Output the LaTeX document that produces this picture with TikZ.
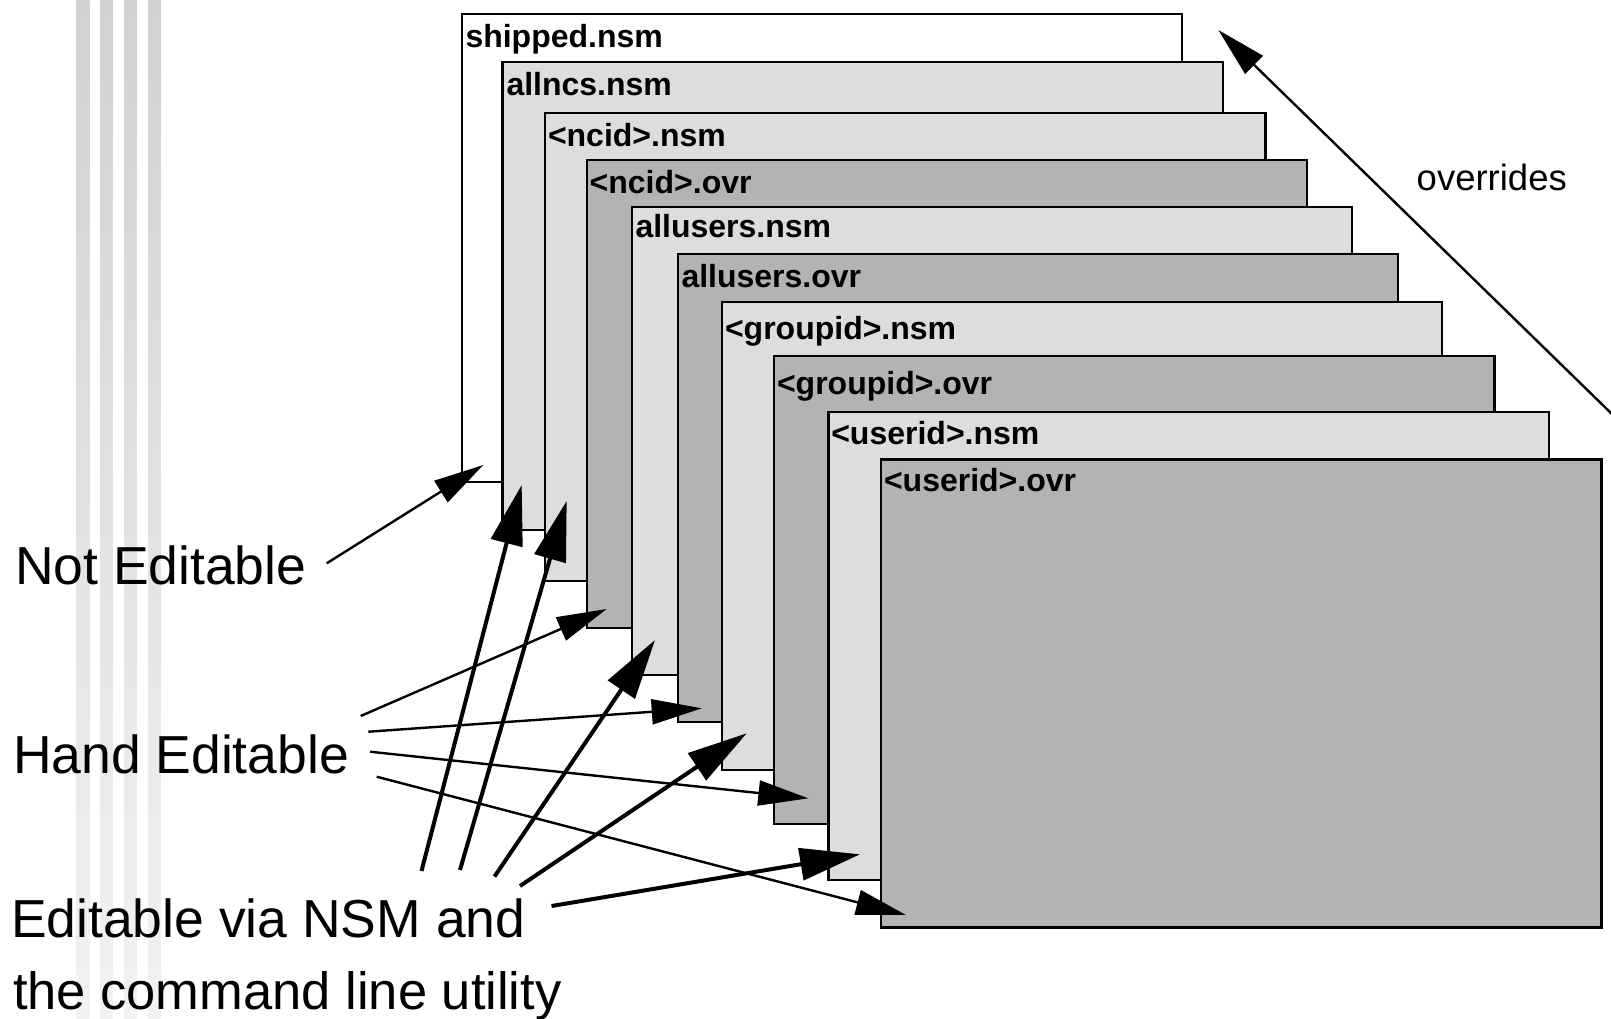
\documentclass[tikz,border=0pt]{standalone}
\usepackage{fontspec}
\setmainfont{Liberation Sans}
\usetikzlibrary{arrows.meta}
\definecolor{lightbox}{RGB}{221,221,221}
\definecolor{darkbox}{RGB}{179,179,179}
\begin{document}
\begin{tikzpicture}[x=1pt,y=-1pt,
  filebox/.style={draw=black, line width=2.4pt, rectangle, anchor=north west,
    minimum width=720.5pt, minimum height=468pt, inner sep=0pt, outer sep=0pt},
  whitebox/.style={filebox, fill=white},
  nsmbox/.style={filebox, fill=lightbox},
  ovrbox/.style={filebox, fill=darkbox},
  boxlabel/.style={anchor=base west, inner sep=0pt, outer sep=0pt,
    font=\bfseries\fontsize{32}{36}\selectfont},
  biglabel/.style={anchor=base west, inner sep=0pt, outer sep=0pt,
    font=\fontsize{53.5}{64}\selectfont},
  thinarrow/.style={line width=2.4pt, -{Triangle[length=50pt,width=25pt]}},
  thickarrow/.style={line width=4pt, -{Triangle[length=60pt,width=32pt]}},
  stripe/.style={top color=black!18, middle color=black!11, bottom color=black!5}
]
\useasboundingbox (0,0) rectangle (1611,1018);
\fill[white] (0,0) rectangle (1611,1018);

% background stripes
\foreach \sx in {76.7,100.3,124,148.3}{
  \shade[stripe] (\sx,0) rectangle (\sx+12.6,1018);
}

% stacked files
\node[whitebox] (b1) at (461.7,14) {};
\node[boxlabel] (l1) at (465.5,47) {shipped.nsm};
\node[nsmbox] (b2) at (502.5,62) {};
\node[boxlabel] (l2) at (506.5,95) {allncs.nsm};
\node[nsmbox] (b3) at (545,113) {};
\node[boxlabel] (l3) at (548,146) {<ncid>.nsm};
\node[ovrbox] (b4) at (586.7,160) {};
\node[boxlabel] (l4) at (589.7,193) {<ncid>.ovr};
\node[nsmbox] (b5) at (631.7,207) {};
\node[boxlabel] (l5) at (635.5,237) {allusers.nsm};
\node[ovrbox] (b6) at (677.7,254) {};
\node[boxlabel] (l6) at (681.5,287) {allusers.ovr};
\node[nsmbox] (b7) at (721.7,302) {};
\node[boxlabel] (l7) at (725,339.5) {<groupid>.nsm};
\node[ovrbox] (b8) at (774,356) {};
\node[boxlabel] (l8) at (777,394.5) {<groupid>.ovr};
\node[nsmbox] (b9) at (828.3,412) {};
\node[boxlabel] (l9) at (831.3,444.5) {<userid>.nsm};
\node[ovrbox] (b10) at (881,459.3) {};
\node[boxlabel] (l10) at (884,491.8) {<userid>.ovr};

% left labels
\node[biglabel] (noted) at (15,584) {Not Editable};
\node[biglabel] (hand) at (13,773) {Hand Editable};
\node[biglabel] (nsma) at (11,937) {Editable via NSM and};
\node[anchor=base west, inner sep=0pt, outer sep=0pt, font=\fontsize{52.5}{64}\selectfont] (nsmb) at (13,1009) {the command line utility};
\node[anchor=base west, inner sep=0pt, font=\fontsize{36.5}{40}\selectfont] (ovrtext) at (1416.5,190) {overrides};

% connector end points
\coordinate (ne-s) at (326.7,563.3);
\coordinate (ne-t) at (483.3,465);
\coordinate (he-s1) at (360.7,716);
\coordinate (he-s2) at (368.3,731.7);
\coordinate (he-s3) at (370,751.7);
\coordinate (he-s4) at (376.7,776.7);
\coordinate (he-t1) at (606.7,609);
\coordinate (he-t2) at (701.7,708.3);
\coordinate (he-t3) at (808.3,798.3);
\coordinate (he-t4) at (906,915);
\coordinate (ns-s1) at (421.5,871);
\coordinate (ns-s2) at (460,870);
\coordinate (ns-s3) at (494.5,876.5);
\coordinate (ns-s4) at (520,886);
\coordinate (ns-s5) at (551.5,906);
\coordinate (ns-t1) at (521.7,485);
\coordinate (ns-t2) at (566.7,501);
\coordinate (ns-t3) at (655,640);
\coordinate (ns-t4) at (746.7,733.3);
\coordinate (ns-t5) at (860,854.3);
\coordinate (ov-s) at (1615,417);
\coordinate (ov-t) at (1218.3,30);

% connectors
\draw[thinarrow] (ne-s) -- (ne-t);
\draw[thinarrow] (he-s1) -- (he-t1);
\draw[thinarrow] (he-s2) -- (he-t2);
\draw[thinarrow] (he-s3) -- (he-t3);
\draw[thinarrow] (he-s4) -- (he-t4);
\draw[thickarrow] (ns-s1) -- (ns-t1);
\draw[thickarrow] (ns-s2) -- (ns-t2);
\draw[thickarrow] (ns-s3) -- (ns-t3);
\draw[thickarrow] (ns-s4) -- (ns-t4);
\draw[thickarrow] (ns-s5) -- (ns-t5);
\draw[thinarrow] (ov-s) -- (ov-t);
\end{tikzpicture}
\end{document}
